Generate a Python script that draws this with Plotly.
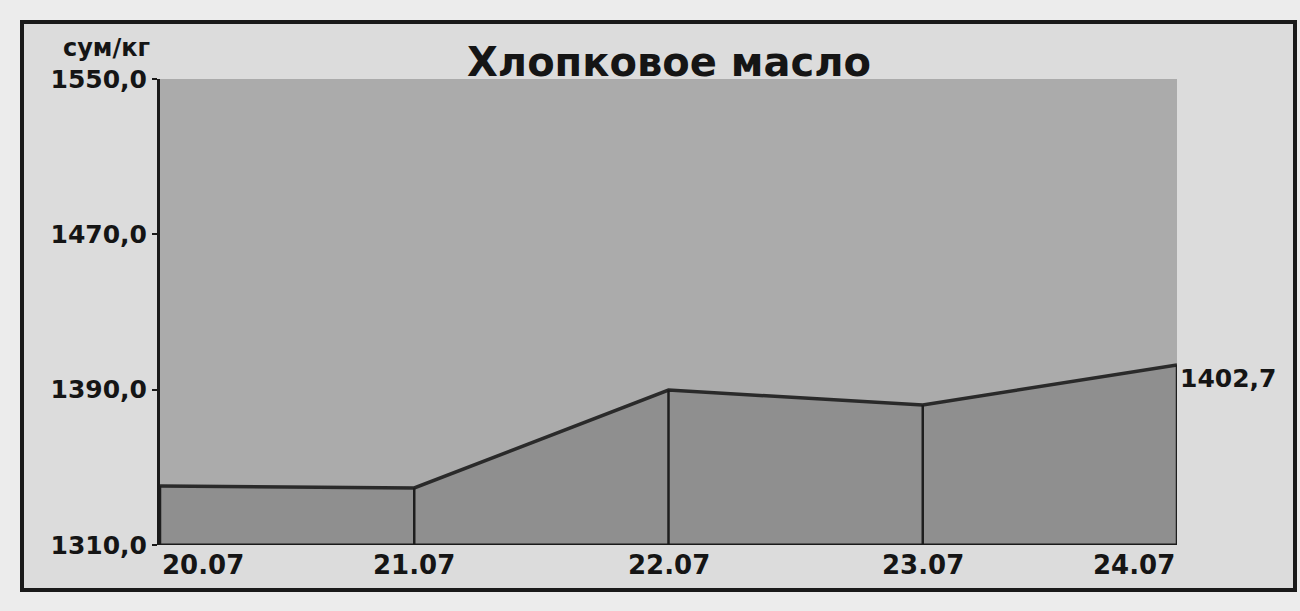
import plotly.graph_objects as go

categories = ["20.07", "21.07", "22.07", "23.07", "24.07"]
values = [1340.4, 1339.4, 1389.8, 1382.1, 1402.7]
y_ticks = [1310.0, 1390.0, 1470.0, 1550.0]
title_text = "Хлопковое масло"
unit_text = "сум/кг"
last_label = "1402,7"

W, H = 1300, 611
L, R, T, B = 160, 123, 79, 66
pw, ph = W - L - R, H - T - B

def px_x(p):
    return (p - L) / pw

def px_y(p):
    return (H - B - p) / ph

xs = list(range(len(categories)))
ymin, ymax = y_ticks[0], y_ticks[-1]

fig = go.Figure()

fig.add_trace(go.Scatter(
    x=xs, y=values, mode="lines", fill="tozeroy",
    fillcolor="#8f8f8f", line=dict(color="#2a2a2a", width=3.5),
    hoverinfo="skip", showlegend=False))

dx, dy = [], []
for x, v in zip(xs, values):
    dx += [x, x, None]
    dy += [ymin, v, None]
fig.add_trace(go.Scatter(
    x=dx, y=dy, mode="lines", line=dict(color="#1e1e1e", width=2.5),
    hoverinfo="skip", showlegend=False))

font_main = "DejaVu Sans, Verdana, sans-serif"
txt = "#151515"

annotations = []
for i, (x, c) in enumerate(zip(xs, categories)):
    anchor = "left" if i == 0 else ("right" if i == len(xs) - 1 else "center")
    annotations.append(dict(
        x=x, y=ymin, xref="x", yref="y", text="<b>%s</b>" % c,
        showarrow=False, xanchor=anchor, yanchor="top", yshift=-3,
        font=dict(family=font_main, size=26, color=txt)))

annotations.append(dict(
    x=xs[-1], y=values[-1], xref="x", yref="y", text="<b>%s</b>" % last_label,
    showarrow=False, xanchor="left", yanchor="middle", xshift=1, yshift=-13,
    font=dict(family=font_main, size=25, color=txt)))

annotations.append(dict(
    x=px_x(152), y=px_y(48), xref="paper", yref="paper", text="<b>%s</b>" % unit_text,
    showarrow=False, xanchor="right", yanchor="middle",
    font=dict(family=font_main, size=24, color=txt)))

annotations.append(dict(
    x=px_x(669), y=px_y(62), xref="paper", yref="paper", text="<b>%s</b>" % title_text,
    showarrow=False, xanchor="center", yanchor="middle",
    font=dict(family=font_main, size=40, color=txt)))

shapes = [
    dict(type="rect", xref="paper", yref="paper", layer="below",
         x0=px_x(22), x1=px_x(1295), y0=px_y(590), y1=px_y(22),
         line=dict(color="#1a1a1a", width=4), fillcolor="#dcdcdc"),
    dict(type="rect", xref="paper", yref="paper", layer="below",
         x0=0, x1=1, y0=0, y1=1, line=dict(width=0), fillcolor="#ababab"),
    dict(type="line", xref="paper", yref="y", x0=0, x1=1, y0=ymin, y1=ymin,
         line=dict(color="#1a1a1a", width=3), layer="above"),
]

fig.update_layout(
    width=W, height=H,
    margin=dict(l=L, r=R, t=T, b=B),
    paper_bgcolor="#ececec",
    plot_bgcolor="#ababab",
    showlegend=False,
    xaxis=dict(range=[xs[0], xs[-1]], showgrid=False, zeroline=False,
               showticklabels=False, ticks="", showline=False, fixedrange=True),
    yaxis=dict(range=[ymin, ymax], tickvals=y_ticks,
               ticktext=["<b>%s</b>" % ("%.1f" % v).replace(".", ",") for v in y_ticks],
               showgrid=False, zeroline=False, ticks="outside", ticklen=5,
               tickcolor="#1a1a1a", tickwidth=2,
               showline=True, linecolor="#1a1a1a", linewidth=3,
               tickfont=dict(family=font_main, size=25, color=txt)),
    annotations=annotations,
    shapes=shapes,
)

fig.write_html("out.html", config={"displayModeBar": False},
               post_script="document.body.style.margin='0';")
